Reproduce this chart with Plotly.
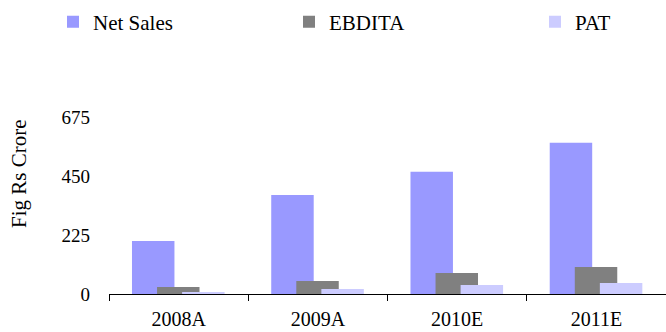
import plotly.graph_objects as go

categories = ["2008A", "2009A", "2010E", "2011E"]
net_sales = [202, 378, 466, 577]
ebdita = [27, 50, 80, 103]
pat = [5, 19, 34, 42]
y_ticks = [0, 225, 450, 675]
y_title = "Fig Rs Crore"

FONT = "Liberation Serif"

series = [
    ("Net Sales", net_sales, "#9999FF", -0.335, "legend", 67),
    ("EBDITA", ebdita, "#808080", -0.155, "legend2", 303),
    ("PAT", pat, "#CCCCFF", 0.025, "legend3", 549),
]

fig = go.Figure()
L, R, T, B = 109, 0, 117, 38
W, H = 666, 332
pw, ph = W - L - R, H - T - B

legends = {}
for name, vals, color, off, lg, px in series:
    fig.add_trace(go.Bar(
        x=categories, y=vals, name=name, marker=dict(color=color, line=dict(width=0)),
        offset=off, width=0.305, legend=lg,
    ))
    legends[lg] = dict(
        x=(px - 109 - 14) / pw, xanchor="left",
        y=(294 - 22) / ph, yanchor="middle",
        font=dict(family=FONT, size=21, color="#000000"),
        bgcolor="rgba(0,0,0,0)", borderwidth=0,
    )

fig.update_layout(
    width=W, height=H,
    margin=dict(l=L, r=R, t=T, b=B, autoexpand=False),
    barmode="overlay",
    plot_bgcolor="white", paper_bgcolor="white",
    showlegend=True,
    font=dict(family=FONT, color="#000000"),
    **legends,
)
fig.add_annotation(
    text=y_title, textangle=-90, showarrow=False,
    xref="paper", yref="paper",
    x=(19 - L) / pw, y=(294 - 174) / ph, xanchor="center", yanchor="middle",
    font=dict(family=FONT, size=21, color="#000000"),
)
fig.update_xaxes(
    type="category", range=[-0.5, 3.5],
    showline=True, linecolor="#000000", linewidth=1,
    ticks="outside", tickson="boundaries", ticklen=6, tickcolor="#000000",
    showgrid=False, zeroline=False,
    tickfont=dict(family=FONT, size=20),
    ticklabelstandoff=7,
)
fig.update_yaxes(
    range=[0, 675], tickvals=y_ticks, showline=False, showgrid=False, zeroline=False,
    ticks="", tickfont=dict(family=FONT, size=19), ticklabelstandoff=18,
)
fig.write_html(
    "out.html",
    config={"displayModeBar": False},
    post_script="document.body.style.margin='0';document.body.style.overflow='hidden';",
)
